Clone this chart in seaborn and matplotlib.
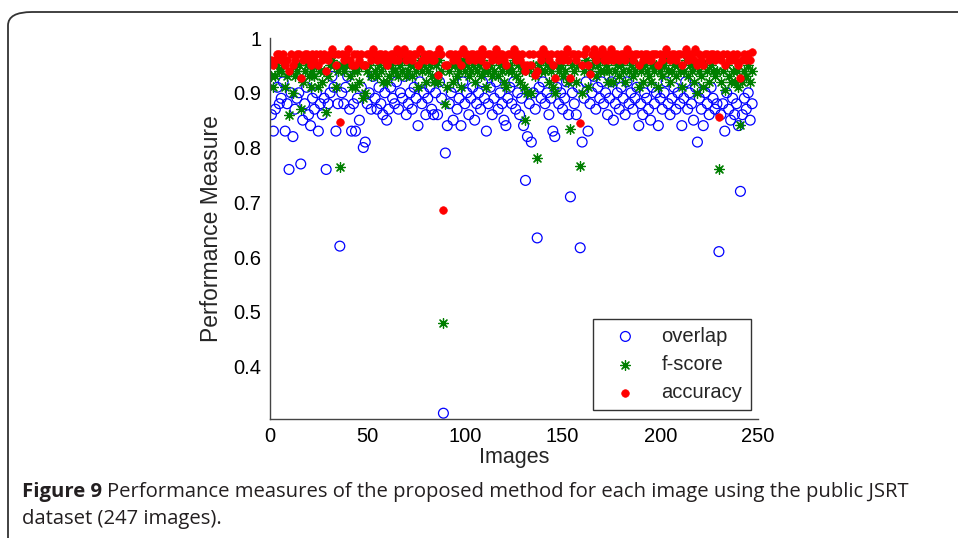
import matplotlib
matplotlib.use("Agg")
import matplotlib.pyplot as plt
import seaborn as sns
import numpy as np
import pandas as pd
from matplotlib.patches import FancyBboxPatch

overlap = [
    0.86, 0.83, 0.87, 0.91, 0.88, 0.89, 0.92, 0.83, 0.88, 0.76,
    0.90, 0.82, 0.87, 0.89, 0.90, 0.77, 0.85, 0.88, 0.91, 0.86,
    0.84, 0.89, 0.87, 0.90, 0.83, 0.88, 0.86, 0.89, 0.76, 0.88,
    0.90, 0.93, 0.91, 0.83, 0.88, 0.62, 0.90, 0.88, 0.91, 0.93,
    0.87, 0.83, 0.88, 0.83, 0.89, 0.85, 0.91, 0.80, 0.81, 0.88,
    0.90, 0.87, 0.93, 0.89, 0.87, 0.91, 0.88, 0.86, 0.90, 0.85,
    0.87, 0.91, 0.89, 0.88, 0.92, 0.87, 0.90, 0.89, 0.93, 0.86,
    0.88, 0.90, 0.87, 0.91, 0.89, 0.84, 0.92, 0.88, 0.90, 0.86,
    0.89, 0.91, 0.87, 0.86, 0.90, 0.86, 0.92, 0.89, 0.315, 0.79,
    0.84, 0.88, 0.90, 0.85, 0.91, 0.87, 0.89, 0.84, 0.92, 0.88,
    0.90, 0.86, 0.89, 0.91, 0.85, 0.88, 0.90, 0.87, 0.92, 0.89,
    0.83, 0.88, 0.91, 0.86, 0.89, 0.92, 0.87, 0.90, 0.88, 0.85,
    0.84, 0.89, 0.91, 0.88, 0.92, 0.87, 0.90, 0.86, 0.89, 0.84,
    0.74, 0.82, 0.88, 0.81, 0.90, 0.87, 0.635, 0.91, 0.89, 0.92,
    0.88, 0.90, 0.86, 0.89, 0.83, 0.82, 0.91, 0.88, 0.90, 0.87,
    0.89, 0.92, 0.86, 0.71, 0.90, 0.88, 0.86, 0.91, 0.617, 0.81,
    0.89, 0.92, 0.83, 0.88, 0.90, 0.93, 0.87, 0.91, 0.89, 0.92,
    0.88, 0.90, 0.86, 0.89, 0.92, 0.85, 0.88, 0.90, 0.87, 0.91,
    0.89, 0.86, 0.92, 0.88, 0.90, 0.87, 0.89, 0.91, 0.84, 0.88,
    0.86, 0.90, 0.89, 0.87, 0.85, 0.91, 0.88, 0.90, 0.84, 0.89,
    0.87, 0.90, 0.92, 0.88, 0.86, 0.89, 0.91, 0.87, 0.90, 0.88,
    0.84, 0.89, 0.92, 0.87, 0.90, 0.88, 0.85, 0.91, 0.81, 0.89,
    0.87, 0.84, 0.90, 0.88, 0.86, 0.91, 0.89, 0.87, 0.88, 0.61,
    0.86, 0.88, 0.83, 0.90, 0.87, 0.85, 0.89, 0.86, 0.88, 0.84,
    0.72, 0.86, 0.89, 0.87, 0.90, 0.85, 0.88,
]

fscore = [
    0.93, 0.91, 0.93, 0.95, 0.94, 0.94, 0.95, 0.91, 0.93, 0.86,
    0.94, 0.90, 0.93, 0.94, 0.95, 0.87, 0.92, 0.94, 0.95, 0.93,
    0.91, 0.94, 0.93, 0.95, 0.91, 0.94, 0.92, 0.94, 0.865, 0.93,
    0.95, 0.96, 0.95, 0.91, 0.94, 0.765, 0.95, 0.94, 0.95, 0.96,
    0.93, 0.91, 0.94, 0.91, 0.94, 0.92, 0.95, 0.89, 0.90, 0.94,
    0.95, 0.93, 0.96, 0.94, 0.93, 0.95, 0.94, 0.92, 0.95, 0.92,
    0.93, 0.95, 0.94, 0.94, 0.96, 0.93, 0.95, 0.94, 0.96, 0.93,
    0.94, 0.95, 0.93, 0.95, 0.94, 0.91, 0.96, 0.94, 0.95, 0.92,
    0.94, 0.95, 0.93, 0.92, 0.95, 0.92, 0.96, 0.94, 0.48, 0.88,
    0.91, 0.94, 0.95, 0.92, 0.95, 0.93, 0.94, 0.91, 0.96, 0.94,
    0.95, 0.93, 0.94, 0.95, 0.92, 0.94, 0.95, 0.93, 0.96, 0.94,
    0.91, 0.94, 0.95, 0.93, 0.94, 0.96, 0.93, 0.95, 0.94, 0.92,
    0.91, 0.94, 0.95, 0.94, 0.96, 0.93, 0.95, 0.92, 0.94, 0.91,
    0.85, 0.90, 0.94, 0.90, 0.95, 0.93, 0.78, 0.95, 0.94, 0.96,
    0.94, 0.95, 0.92, 0.94, 0.91, 0.90, 0.95, 0.94, 0.95, 0.93,
    0.94, 0.96, 0.92, 0.833, 0.95, 0.94, 0.92, 0.95, 0.766, 0.90,
    0.94, 0.96, 0.91, 0.94, 0.95, 0.96, 0.93, 0.95, 0.94, 0.96,
    0.94, 0.95, 0.92, 0.94, 0.96, 0.92, 0.94, 0.95, 0.93, 0.95,
    0.94, 0.92, 0.96, 0.94, 0.95, 0.93, 0.94, 0.95, 0.91, 0.94,
    0.92, 0.95, 0.94, 0.93, 0.92, 0.95, 0.94, 0.95, 0.91, 0.94,
    0.93, 0.95, 0.96, 0.94, 0.92, 0.94, 0.95, 0.93, 0.95, 0.94,
    0.91, 0.94, 0.96, 0.93, 0.95, 0.94, 0.92, 0.95, 0.90, 0.94,
    0.93, 0.91, 0.95, 0.94, 0.92, 0.95, 0.94, 0.93, 0.94, 0.76,
    0.92, 0.94, 0.905, 0.95, 0.93, 0.92, 0.94, 0.92, 0.94, 0.91,
    0.842, 0.92, 0.94, 0.93, 0.95, 0.92, 0.94,
]

accuracy = [
    0.96, 0.95, 0.96, 0.97, 0.97, 0.96, 0.97, 0.95, 0.96, 0.94,
    0.97, 0.95, 0.96, 0.97, 0.97, 0.927, 0.96, 0.97, 0.97, 0.96,
    0.95, 0.97, 0.96, 0.97, 0.95, 0.97, 0.96, 0.97, 0.94, 0.96,
    0.97, 0.98, 0.97, 0.95, 0.97, 0.847, 0.97, 0.96, 0.97, 0.98,
    0.96, 0.95, 0.97, 0.95, 0.97, 0.96, 0.97, 0.95, 0.95, 0.97,
    0.97, 0.96, 0.98, 0.97, 0.96, 0.97, 0.97, 0.96, 0.97, 0.95,
    0.96, 0.97, 0.97, 0.96, 0.98, 0.96, 0.97, 0.97, 0.98, 0.96,
    0.97, 0.97, 0.96, 0.97, 0.97, 0.95, 0.98, 0.96, 0.97, 0.96,
    0.97, 0.97, 0.96, 0.96, 0.97, 0.932, 0.98, 0.97, 0.686, 0.95,
    0.95, 0.97, 0.97, 0.96, 0.97, 0.96, 0.97, 0.95, 0.98, 0.97,
    0.97, 0.96, 0.97, 0.97, 0.96, 0.97, 0.97, 0.96, 0.98, 0.97,
    0.95, 0.97, 0.97, 0.96, 0.97, 0.98, 0.96, 0.97, 0.97, 0.96,
    0.95, 0.97, 0.97, 0.97, 0.98, 0.96, 0.97, 0.96, 0.97, 0.95,
    0.94, 0.95, 0.97, 0.95, 0.97, 0.932, 0.94, 0.97, 0.96, 0.98,
    0.97, 0.97, 0.96, 0.97, 0.95, 0.927, 0.97, 0.96, 0.97, 0.96,
    0.97, 0.98, 0.96, 0.927, 0.97, 0.97, 0.96, 0.97, 0.845, 0.95,
    0.97, 0.98, 0.95, 0.935, 0.97, 0.98, 0.96, 0.97, 0.97, 0.98,
    0.96, 0.97, 0.96, 0.97, 0.98, 0.96, 0.97, 0.97, 0.96, 0.97,
    0.97, 0.96, 0.98, 0.97, 0.97, 0.96, 0.97, 0.97, 0.95, 0.97,
    0.96, 0.97, 0.97, 0.96, 0.96, 0.97, 0.97, 0.97, 0.95, 0.97,
    0.96, 0.97, 0.98, 0.97, 0.96, 0.97, 0.97, 0.96, 0.97, 0.97,
    0.95, 0.97, 0.98, 0.96, 0.97, 0.97, 0.96, 0.98, 0.95, 0.97,
    0.96, 0.95, 0.97, 0.97, 0.96, 0.97, 0.97, 0.96, 0.97, 0.855,
    0.96, 0.97, 0.95, 0.97, 0.96, 0.96, 0.97, 0.96, 0.97, 0.95,
    0.927, 0.96, 0.97, 0.96, 0.97, 0.96, 0.975,
]

x_ticks = [0, 50, 100, 150, 200, 250]
y_ticks = [0.4, 0.5, 0.6, 0.7, 0.8, 0.9, 1.0]
y_tick_labels = ["0.4", "0.5", "0.6", "0.7", "0.8", "0.9", "1"]

images = np.arange(1, len(overlap) + 1)

sns.set_style("white")
plt.rcParams["font.family"] = ["Liberation Sans", "DejaVu Sans"]
tick_font = ["Liberation Sans", "DejaVu Sans"]

fig = plt.figure(figsize=(9.58, 5.38), dpi=100)
ax = fig.add_axes([269.5 / 958, 1 - 418.5 / 538, (758 - 269.5) / 958, (418.5 - 38) / 538])

df_o = pd.DataFrame({"Images": images, "value": overlap})
df_f = pd.DataFrame({"Images": images, "value": fscore})
df_a = pd.DataFrame({"Images": images, "value": accuracy})

sns.scatterplot(data=df_o, x="Images", y="value", ax=ax, marker="o", s=50,
                facecolor="none", edgecolor="#0000ff", linewidth=0.9, label="overlap")
sns.scatterplot(data=df_f, x="Images", y="value", ax=ax, marker=(8, 2, 0), s=50,
                color="#007f00", edgecolor="#007f00", linewidth=0.9, label="f-score")
sns.scatterplot(data=df_a, x="Images", y="value", ax=ax, marker="o", s=30,
                color="#ff0000", edgecolor="#ff0000", linewidth=0.5, label="accuracy")

ax.set_xlim(0, 250)
ax.set_ylim(0.3053, 1.0)
ax.set_xticks(x_ticks)
ax.set_xticklabels([str(t) for t in x_ticks], fontsize=14.5, family=tick_font)
ax.set_yticks(y_ticks)
ax.set_yticklabels(y_tick_labels, fontsize=14.5, family=tick_font)
ax.tick_params(direction="in", length=5, width=0.8, colors="black", pad=6)
for side in ["top", "right"]:
    ax.spines[side].set_visible(False)
for side in ["left", "bottom"]:
    ax.spines[side].set_color("#444444")
    ax.spines[side].set_linewidth(1.0)

ax.set_xlabel("Images", fontsize=15.5, family=tick_font, labelpad=1)
ax.set_ylabel("Performance Measure", fontsize=16.5, family=tick_font, labelpad=7)

leg = ax.legend(loc="lower right", bbox_to_anchor=(0.993, 0.012), frameon=True,
                fancybox=False, fontsize=14.5, handletextpad=0.6, borderpad=0.4,
                labelspacing=0.45, handlelength=2.4, markerscale=1.0, borderaxespad=0.2)
leg.get_frame().set_edgecolor("black")
leg.get_frame().set_linewidth(1.0)

# outer rounded frame
frame = FancyBboxPatch((8 / 958, 1 - 700 / 538), 1200 / 958, (700 - 12) / 538,
                       boxstyle="round,pad=0,rounding_size=0.025",
                       transform=fig.transFigure, fill=False, edgecolor="#333333",
                       linewidth=1.3, clip_on=False)
fig.patches.append(frame)

cap_font = ["Open Sans", "DejaVu Sans"]
cap_size = 14.6
cap_color = "#231f20"
t1 = fig.text(22 / 958, 1 - 492 / 538, "Figure 9", fontsize=cap_size, fontweight="bold",
              family=cap_font, color=cap_color, va="center", ha="left")
fig.canvas.draw()
bb = t1.get_window_extent()
fig.text((bb.x1 + 5) / 958, 1 - 492 / 538,
         "Performance measures of the proposed method for each image using the public JSRT",
         fontsize=cap_size, family=cap_font, color=cap_color, va="center", ha="left")
fig.text(22 / 958, 1 - 519 / 538, "dataset (247 images).", fontsize=cap_size,
         family=cap_font, color=cap_color, va="center", ha="left")

fig.savefig("out.png", dpi=100)
